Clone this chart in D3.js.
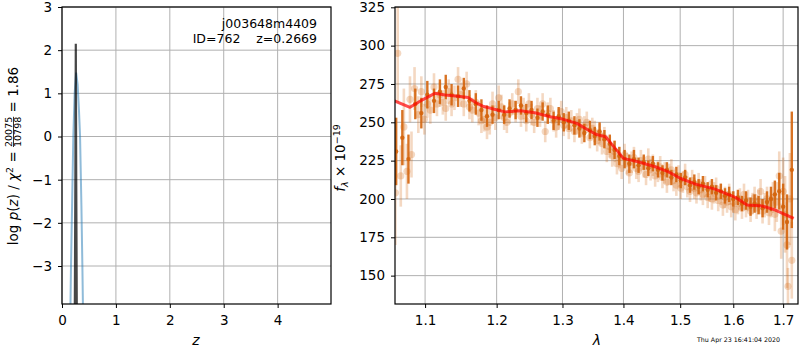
<!DOCTYPE html>
<html>
<head>
<meta charset="utf-8">
<script src="https://cdn.jsdelivr.net/npm/d3@7"></script>
<style>
  body { margin: 0; background: #fff; }
  svg, svg text { font-family: "DejaVu Sans", sans-serif; white-space: pre; }
  .grid line { stroke: #b0b0b0; stroke-width: 1; }
  .axis path, .axis line { stroke: #000; }
  .axis text { font-size: 13.5px; fill: #000; font-family: "DejaVu Sans", sans-serif; }
</style>
</head>
<body>
<div id="chart"></div>
<script>
// ---- left panel: redshift probability ----
const zTicks = [0, 1, 2, 3, 4];
const logpTicks = [-3, -2, -1, 0, 1, 2, 3];
const zGrid = [0.150, 0.167, 0.190, 0.210, 0.235, 0.262, 0.290, 0.315, 0.335, 0.360, 0.378, 0.395];
const logPz = [-4.6, -3.0, -1.4, 0.0, 1.0, 1.48, 1.2, 0.6, 0.0, -1.6, -3.0, -4.5];
const zSpike = [0.236, 0.248, 0.256, 0.264, 0.276];
const logPzSpike = [-4.5, -1.0, 2.15, -1.0, -4.5];

// ---- right panel: spectrum ----
const lamTicks = [1.1, 1.2, 1.3, 1.4, 1.5, 1.6, 1.7];
const fluxTicks = [150, 175, 200, 225, 250, 275, 300, 325];

// first spectrum (dark)
const waveA = [1.062, 1.070, 1.078, 1.087, 1.095, 1.103, 1.112, 1.120, 1.128, 1.136,
  1.145, 1.153, 1.161, 1.170, 1.178, 1.186, 1.194, 1.203, 1.211, 1.219,
  1.228, 1.236, 1.244, 1.252, 1.261, 1.269, 1.277, 1.286, 1.294, 1.302,
  1.310, 1.319, 1.327, 1.335, 1.344, 1.352, 1.360, 1.368, 1.377, 1.385,
  1.393, 1.402, 1.410, 1.418, 1.426, 1.435, 1.443, 1.451, 1.460, 1.468,
  1.476, 1.484, 1.493, 1.501, 1.509, 1.518, 1.526, 1.534, 1.542, 1.551,
  1.559, 1.567, 1.576, 1.584, 1.592, 1.600, 1.609, 1.617, 1.625, 1.634,
  1.642, 1.650, 1.658, 1.667, 1.675, 1.683, 1.692, 1.700, 1.708, 1.718];
const fluxA = [231, 240, 226, 262, 256, 268, 264, 270, 273, 268,
  267, 272, 264, 262, 258, 254, 255, 258, 255, 259,
  258, 261, 256, 258, 253, 257, 255, 251, 254, 250,
  251, 248, 246, 243, 245, 241, 244, 239, 236, 232,
  228, 226, 223, 226, 222, 224, 220, 223, 219, 217,
  219, 214, 216, 212, 214, 209, 211, 208, 210, 206,
  208, 204, 205, 202, 203, 200, 201, 197, 199, 195,
  197, 196, 194, 198, 200, 203, 205, 195, 185, 219];
const errA = [22, 18, 16, 10, 10, 9, 8, 8, 8, 7,
  7, 7, 7, 7, 7, 7, 6, 6, 6, 6,
  6, 6, 6, 6, 6, 6, 6, 6, 6, 6,
  6, 6, 6, 6, 6, 6, 6, 6, 6, 6,
  6, 6, 6, 6, 5, 5, 5, 5, 5, 5,
  5, 5, 5, 5, 5, 5, 5, 5, 5, 5,
  5, 5, 5, 5, 5, 5, 5, 5, 6, 6,
  6, 6, 6, 7, 8, 9, 12, 15, 18, 38];

// second spectrum (light)
const waveB = [1.061, 1.064, 1.068, 1.072, 1.076, 1.080, 1.082, 1.086, 1.091, 1.095,
  1.099, 1.103, 1.107, 1.112, 1.116, 1.120, 1.124, 1.128, 1.132, 1.136,
  1.140, 1.145, 1.149, 1.153, 1.157, 1.161, 1.165, 1.170, 1.174, 1.178,
  1.182, 1.186, 1.190, 1.194, 1.198, 1.203, 1.207, 1.211, 1.215, 1.219,
  1.223, 1.228, 1.232, 1.236, 1.240, 1.244, 1.248, 1.252, 1.256, 1.261,
  1.265, 1.269, 1.273, 1.277, 1.281, 1.286, 1.290, 1.294, 1.298, 1.302,
  1.306, 1.310, 1.314, 1.319, 1.323, 1.327, 1.331, 1.335, 1.339, 1.344,
  1.348, 1.352, 1.356, 1.360, 1.364, 1.368, 1.372, 1.377, 1.381, 1.385,
  1.389, 1.393, 1.397, 1.402, 1.406, 1.410, 1.414, 1.418, 1.422, 1.426,
  1.430, 1.435, 1.439, 1.443, 1.447, 1.451, 1.455, 1.460, 1.464, 1.468,
  1.472, 1.476, 1.480, 1.484, 1.488, 1.493, 1.497, 1.501, 1.505, 1.509,
  1.513, 1.518, 1.522, 1.526, 1.530, 1.534, 1.538, 1.542, 1.546, 1.551,
  1.555, 1.559, 1.563, 1.567, 1.571, 1.576, 1.580, 1.584, 1.588, 1.592,
  1.596, 1.600, 1.604, 1.609, 1.613, 1.617, 1.621, 1.625, 1.629, 1.634,
  1.638, 1.642, 1.646, 1.650, 1.654, 1.658, 1.662, 1.667, 1.671, 1.675,
  1.679, 1.683, 1.687, 1.692, 1.696, 1.700, 1.704, 1.708, 1.710, 1.714, 1.718];
const fluxB = [204, 295, 215, 247, 218, 265, 229, 272, 255, 270,
  252, 262, 258, 273, 262, 268, 263, 259, 270, 262,
  266, 278, 268, 262, 275, 260, 258, 263, 256, 251,
  252, 247, 250, 262, 253, 266, 260, 253, 250, 256,
  262, 257, 270, 254, 259, 251, 262, 255, 250, 259,
  254, 262, 244, 256, 259, 251, 247, 252, 257, 248,
  253, 246, 251, 244, 249, 252, 243, 247, 250, 240,
  246, 244, 238, 242, 236, 240, 231, 234, 228, 231,
  223, 227, 220, 229, 223, 217, 224, 227, 220, 218,
  225, 221, 216, 226, 219, 222, 215, 218, 221, 214,
  217, 211, 216, 219, 212, 209, 215, 207, 211, 216,
  208, 205, 212, 207, 204, 210, 206, 203, 208, 201,
  205, 200, 204, 207, 199, 203, 196, 201, 198, 203,
  195, 198, 193, 197, 200, 194, 203, 195, 199, 192,
  197, 201, 194, 198, 205, 192, 196, 200, 191, 197,
  201, 190, 198, 215, 179, 205, 190, 170, 143, 200, 160];
const errB = [34, 32, 20, 25, 18, 15, 15, 14, 12, 10,
  10, 9, 9, 9, 8, 8, 8, 8, 8, 8,
  8, 8, 8, 8, 8, 8, 8, 8, 8, 8,
  8, 8, 8, 8, 8, 8, 8, 8, 7, 7,
  7, 7, 8, 7, 7, 7, 7, 7, 7, 7,
  7, 7, 7, 7, 7, 7, 7, 7, 7, 7,
  7, 7, 7, 7, 7, 7, 7, 7, 7, 7,
  7, 7, 7, 7, 7, 7, 7, 7, 7, 7,
  7, 7, 7, 7, 7, 7, 7, 7, 7, 7,
  7, 7, 7, 7, 7, 7, 7, 7, 7, 7,
  7, 7, 7, 7, 7, 7, 7, 7, 7, 7,
  7, 7, 7, 7, 7, 7, 7, 7, 7, 7,
  7, 7, 7, 7, 7, 7, 7, 7, 7, 7,
  7, 7, 7, 7, 7, 7, 7, 7, 7, 7,
  7, 7, 7, 8, 8, 8, 8, 8, 8, 9,
  10, 11, 13, 16, 18, 22, 25, 28, 12, 30, 25];

// best-fit model
const modelWave = [1.060, 1.080, 1.096, 1.113, 1.127, 1.145, 1.159, 1.172, 1.180, 1.198,
  1.212, 1.235, 1.257, 1.281, 1.300, 1.323, 1.341, 1.355, 1.370, 1.386,
  1.400, 1.425, 1.455, 1.478, 1.500, 1.528, 1.565, 1.604, 1.627, 1.657, 1.684, 1.722];
const modelFlux = [264, 259.8, 264.5, 268.9, 267.8, 267, 266.2, 262.3, 260.5, 258.4,
  256.8, 257.5, 256.2, 253.6, 252.1, 249.3, 245, 242, 240.6, 233,
  226.5, 224.3, 221, 217.8, 213.5, 209.7, 206.4, 201.1, 196.1, 195.4, 192.8, 187.4];

const W = 800, H = 350;
const specColor = "#d4640c";
const FONT = "DejaVu Sans";

const svg = d3.select("#chart").append("svg")
    .attr("width", W)
    .attr("height", H)
    .attr("font-family", FONT);

const defs = svg.append("defs");

function panel(name, x, y, xTickVals, yTickVals, xFmt, yFmt) {
    const [x0, x1] = x.range();
    const [y0, y1] = y.range();
    defs.append("clipPath").attr("id", "clip-" + name)
        .append("rect").attr("x", x0).attr("y", y1).attr("width", x1 - x0).attr("height", y0 - y1);

    const g = svg.append("g");
    const grid = g.append("g").attr("class", "grid");
    grid.selectAll(".vx").data(xTickVals).join("line")
        .attr("x1", d => x(d)).attr("x2", d => x(d))
        .attr("y1", y1).attr("y2", y0);
    grid.selectAll(".hy").data(yTickVals).join("line")
        .attr("x1", x0).attr("x2", x1)
        .attr("y1", d => y(d)).attr("y2", d => y(d));

    const plot = g.append("g").attr("clip-path", `url(#clip-${name})`);

    const xAxis = d3.axisBottom(x).tickValues(xTickVals).tickFormat(xFmt)
        .tickSizeInner(4).tickSizeOuter(0).tickPadding(7);
    const yAxis = d3.axisLeft(y).tickValues(yTickVals).tickFormat(yFmt)
        .tickSizeInner(4).tickSizeOuter(0).tickPadding(6);

    const axes = svg.append("g");
    axes.append("g").attr("class", "axis").attr("transform", `translate(0,${y0})`).call(xAxis)
        .attr("font-family", FONT).attr("font-size", 13.5)
        .select(".domain").remove();
    axes.append("g").attr("class", "axis").attr("transform", `translate(${x0},0)`).call(yAxis)
        .attr("font-family", FONT).attr("font-size", 13.5)
        .select(".domain").remove();
    axes.append("rect")
        .attr("x", x0).attr("y", y1).attr("width", x1 - x0).attr("height", y0 - y1)
        .attr("fill", "none").attr("stroke", "#000").attr("stroke-width", 1.2);
    return plot;
}

const minus = d => d3.format("")(d).replace("-", "\u2212");

// ---------- left ----------
const zx = d3.scaleLinear().domain([0, 4.99]).range([62, 331]);
const py = d3.scaleLinear().domain([-3.88, 3.0]).range([304, 7]);
const left = panel("l", zx, py, zTicks, logpTicks, d3.format("d"), minus);

const pzLine = d3.line().x((d, i) => zx(d)).y((d, i) => py(logPz[i]));
left.append("path").datum(zGrid)
    .attr("d", pzLine)
    .attr("fill", "none").attr("stroke", "#1f77b4").attr("stroke-opacity", 0.5).attr("stroke-width", 2);

const spikeLine = d3.line().x(d => zx(d)).y((d, i) => py(logPzSpike[i]));
left.append("path").datum(zSpike)
    .attr("d", spikeLine)
    .attr("fill", "none").attr("stroke", "#000").attr("stroke-opacity", 0.72).attr("stroke-width", 2.2);

svg.append("text").attr("x", 317).attr("y", 28).attr("text-anchor", "end")
    .attr("font-size", 12.5).text("j003648m4409");
svg.append("text").attr("x", 317).attr("y", 43).attr("text-anchor", "end")
    .attr("font-size", 12.5).attr("xml:space", "preserve").text("ID=762    z=0.2669");

svg.append("text").attr("x", 196).attr("y", 345).attr("text-anchor", "middle")
    .attr("font-size", 14).attr("font-style", "italic").text("z");

// left y label: log p(z) / chi^2 = 20075/10798 = 1.86
const ylab = svg.append("g");
const ylabInner = ylab.append("g");
const partA = ylabInner.append("text").attr("font-size", 13.5).attr("y", 0).attr("xml:space", "preserve");
partA.append("tspan").text("log\u00a0");
partA.append("tspan").attr("font-style", "italic").text("p");
partA.append("tspan").text("(");
partA.append("tspan").attr("font-style", "italic").text("z");
partA.append("tspan").text(")\u00a0/\u00a0");
partA.append("tspan").attr("font-style", "italic").text("\u03c7");
partA.append("tspan").attr("font-size", 9.5).attr("dy", -5.5).text("2");
partA.append("tspan").attr("dy", 5.5).text("\u00a0=\u00a0");
const lenA = partA.node().getComputedTextLength();
const num = ylabInner.append("text").attr("font-size", 9.5).attr("x", lenA).attr("y", -6).text("20075");
const den = ylabInner.append("text").attr("font-size", 9.5).attr("x", lenA).attr("y", 3).text("10798");
const fracW = Math.max(num.node().getComputedTextLength(), den.node().getComputedTextLength());
ylabInner.append("line").attr("x1", lenA).attr("x2", lenA + fracW)
    .attr("y1", -4.5).attr("y2", -4.5).attr("stroke", "#000").attr("stroke-width", 0.8);
const partB = ylabInner.append("text").attr("font-size", 13.5).attr("x", lenA + fracW)
    .text("\u00a0=\u00a01.86");
const totalW = lenA + fracW + partB.node().getComputedTextLength();
ylabInner.attr("transform", `translate(${-totalW / 2},0)`);
ylab.attr("transform", "translate(18,156) rotate(-90)");

// ---------- right ----------
const lx = d3.scaleLog().domain([1.0605, 1.731]).range([395, 798]);
const fy = d3.scaleLinear().domain([131.5, 325.2]).range([304, 7]);
const right = panel("r", lx, fy, lamTicks, fluxTicks, d3.format(".1f"), d3.format("d"));

function spectrum(waves, flux, err, opacity, r, ew) {
    const g = right.append("g");
    g.selectAll("line").data(waves).join("line")
        .attr("x1", d => lx(d)).attr("x2", d => lx(d))
        .attr("y1", (d, i) => fy(flux[i] - err[i]))
        .attr("y2", (d, i) => fy(flux[i] + err[i]))
        .attr("stroke", specColor).attr("stroke-opacity", opacity).attr("stroke-width", ew);
    g.selectAll("circle").data(waves).join("circle")
        .attr("cx", d => lx(d))
        .attr("cy", (d, i) => fy(flux[i]))
        .attr("r", r)
        .attr("fill", specColor).attr("fill-opacity", opacity);
}

spectrum(waveB, fluxB, errB, 0.25, 3.6, 2.6);
spectrum(waveA, fluxA, errA, 0.9, 2.2, 2.4);

const modelLine = d3.line().x(d => lx(d)).y((d, i) => fy(modelFlux[i]));
right.append("path").datum(modelWave)
    .attr("d", modelLine)
    .attr("fill", "none").attr("stroke", "#ff0000").attr("stroke-opacity", 0.7)
    .attr("stroke-width", 3).attr("stroke-linejoin", "round");

svg.append("text").attr("x", 597).attr("y", 345).attr("text-anchor", "middle")
    .attr("font-size", 14).attr("font-style", "italic").text("\u03bb");

const flab = svg.append("text").attr("font-size", 13.5).attr("text-anchor", "middle")
    .attr("transform", "translate(345,158) rotate(-90)");
flab.append("tspan").attr("font-style", "italic").text("f");
flab.append("tspan").attr("font-style", "italic").attr("font-size", 9.5).attr("dy", 3).text("\u03bb");
flab.append("tspan").attr("dy", -3).text("\u00a0\u00d7\u00a010");
flab.append("tspan").attr("font-size", 9.5).attr("dy", -5.5).text("\u221219");

svg.append("text").attr("x", 697).attr("y", 342).attr("font-size", 6.3)
    .text("Thu Apr 23 16:41:04 2020");
</script>
</body>
</html>
